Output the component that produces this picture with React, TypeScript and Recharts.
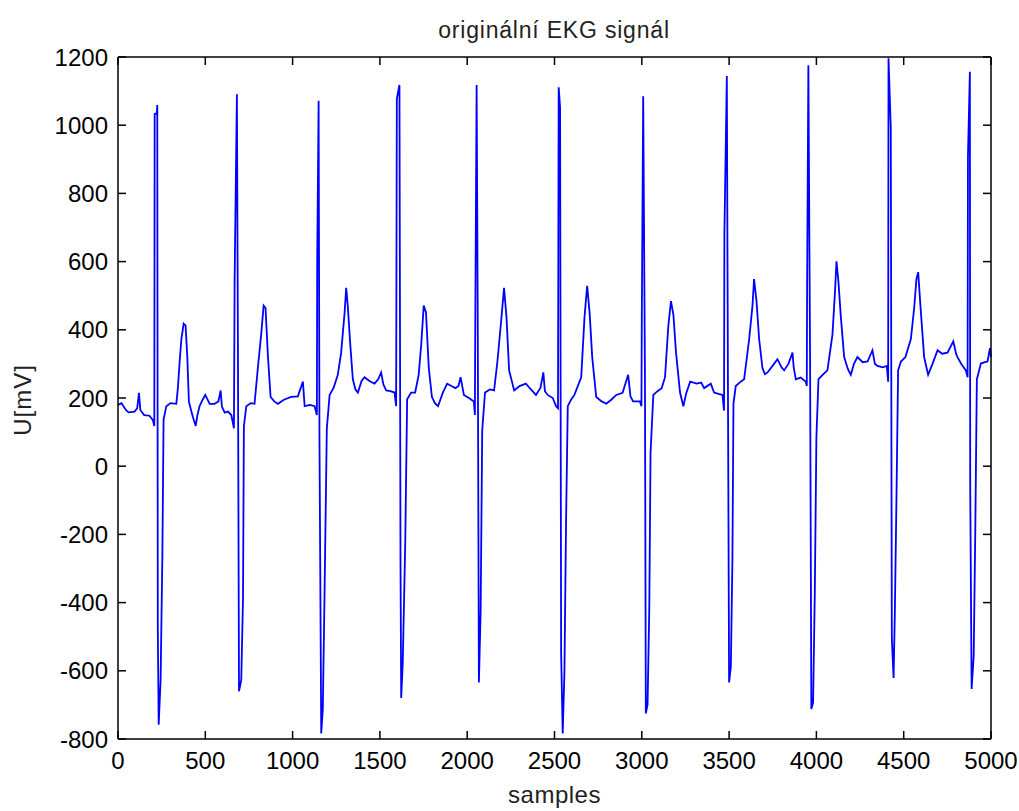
import React from "react";
import { LineChart, Line, XAxis, YAxis } from "recharts";

// hand-read sample positions and voltages from the ECG trace
const samples = [
  0, 20, 45, 60, 95, 110, 120, 128, 150, 180, 200, 208, 210, 222, 225, 228, 233, 244, 254, 261, 277, 300, 334, 343, 353, 363, 376, 387, 397, 406, 418, 429, 445, 455, 467, 485, 500, 525, 553, 575, 588, 595, 611, 630, 649, 664,
  668, 681, 687, 693, 706, 716, 721, 735, 760, 782, 801, 820, 834, 845, 859, 874, 895, 916, 950, 992, 1030, 1059, 1069, 1100, 1126, 1139,
  1141, 1149, 1154, 1164, 1173, 1183, 1196, 1212, 1235, 1259, 1278, 1298, 1307, 1316, 1330, 1345, 1360, 1374, 1395, 1412, 1440, 1469, 1490, 1507, 1520, 1536, 1560, 1584, 1593,
  1597, 1612, 1618, 1622, 1631, 1645, 1656, 1679, 1702, 1722, 1737, 1751, 1764, 1780, 1798, 1815, 1833, 1860, 1885, 1910, 1933, 1950, 1962, 1981, 2010, 2038, 2044,
  2046, 2054, 2060, 2067, 2077, 2086, 2102, 2130, 2154, 2173, 2192, 2211, 2225, 2240, 2269, 2300, 2336, 2365, 2394, 2420, 2436, 2445, 2461, 2490, 2509, 2520,
  2524, 2532, 2538, 2547, 2557, 2566, 2576, 2595, 2614, 2653, 2672, 2687, 2701, 2716, 2739, 2770, 2797, 2825, 2854, 2890, 2922, 2935, 2950, 2989, 2998,
  3000, 3008, 3018, 3023, 3033, 3043, 3050, 3066, 3090, 3114, 3133, 3152, 3167, 3181, 3196, 3219, 3238, 3255, 3277, 3315, 3340, 3357, 3395, 3414, 3440, 3462, 3471,
  3473, 3487, 3494, 3500, 3510, 3519, 3525, 3538, 3560, 3586, 3615, 3634, 3643, 3657, 3672, 3691, 3705, 3720, 3750, 3777, 3800, 3815, 3840, 3863, 3870, 3882, 3910, 3939, 3945,
  3947, 3954, 3964, 3971, 3981, 3991, 4000, 4012, 4040, 4063, 4092, 4107, 4115, 4126, 4140, 4159, 4180, 4197, 4215, 4235, 4265, 4293, 4321, 4335, 4350, 4380, 4403, 4411,
  4413, 4426, 4432, 4442, 4449, 4459, 4468, 4484, 4510, 4541, 4560, 4573, 4583, 4594, 4617, 4640, 4665, 4694, 4720, 4751, 4784, 4800, 4808, 4830, 4856, 4866,
  4868, 4879, 4881, 4889, 4901, 4910, 4919, 4942, 4965, 4980, 4994, 5000,
];

const voltage = [
  180, 185, 165, 158, 160, 170, 215, 165, 150, 148, 135, 118, 1033, 1035, 1059, -477, -758, -627, -268, 137, 176, 185, 183, 229, 307, 373, 418, 412, 320, 190, 165, 144, 118, 150, 176, 195, 209, 183, 183, 190, 222, 175, 157, 160, 150, 111,
  549, 1091, 333, -660, -627, -386, 118, 176, 185, 183, 288, 386, 471, 464, 320, 203, 190, 183, 195, 203, 205, 248, 176, 180, 176, 150,
  608, 1072, 72, -784, -712, -373, 111, 209, 230, 268, 333, 451, 523, 471, 359, 255, 225, 216, 250, 261, 250, 242, 255, 275, 240, 222, 220, 216, 176,
  1078, 1118, -281, -680, -575, -229, 196, 216, 216, 268, 359, 471, 451, 288, 203, 185, 176, 215, 242, 235, 229, 235, 261, 209, 200, 190, 150,
  399, 1118, 484, -634, -425, 105, 216, 225, 222, 307, 412, 523, 438, 281, 222, 235, 242, 225, 209, 230, 275, 220, 209, 200, 176, 170,
  1111, 1052, -549, -784, -601, -170, 176, 195, 209, 261, 438, 529, 451, 320, 203, 190, 183, 195, 209, 215, 268, 205, 190, 190, 176,
  438, 1085, 268, -725, -699, -412, 39, 209, 220, 229, 261, 412, 484, 444, 333, 216, 176, 215, 248, 242, 245, 229, 242, 216, 212, 209, 163,
  680, 1144, 150, -634, -588, -275, 183, 235, 245, 255, 373, 471, 549, 484, 373, 288, 270, 275, 295, 314, 290, 281, 300, 333, 290, 255, 260, 248, 235,
  549, 1176, 288, -712, -693, -366, 85, 255, 270, 281, 386, 516, 601, 542, 438, 320, 285, 268, 300, 320, 305, 307, 340, 300, 294, 290, 294, 248,
  1196, 993, -503, -621, -438, -78, 281, 307, 320, 373, 464, 549, 569, 484, 320, 268, 300, 340, 330, 333, 366, 330, 320, 300, 281, 261,
  908, 1157, -65, -653, -556, -190, 255, 301, 305, 307, 346, 320,
];

const xTicks = [0, 500, 1000, 1500, 2000, 2500, 3000, 3500, 4000, 4500, 5000];
const yTicks = [-800, -600, -400, -200, 0, 200, 400, 600, 800, 1000, 1200];

const data = samples.map((s, i) => ({ x: s, u: voltage[i] }));

const FONT = "'Liberation Sans', Arial, sans-serif";
const tickStyle = { fill: "#000", fontSize: 24, fontFamily: FONT };
const frame = { stroke: "#000", strokeWidth: 1.5 };

// tick marks only, no text
const noText = () => <g />;

const titleLabel = () => (
  <text
    x={554}
    y={38}
    textAnchor="middle"
    fontSize={23}
    fontFamily={FONT}
    letterSpacing={0.8}
    fill="#222"
  >
    originální EKG signál
  </text>
);

const yLabel = () => (
  <text
    x={0}
    y={0}
    transform="translate(31, 400) rotate(-90)"
    textAnchor="middle"
    fontSize={24}
    fontFamily={FONT}
    letterSpacing={1}
    fill="#222"
  >
    U[mV]
  </text>
);

const App = () => {
  return (
    <div style={{ position: "absolute", left: 0, top: 0, background: "#fff" }}>
      <LineChart
        width={1019}
        height={811}
        data={data}
        margin={{ top: 57, right: 28, bottom: 0, left: 0 }}
      >
        {/* labelled axes, ticks pointing inward */}
        <XAxis
          xAxisId="b"
          dataKey="x"
          type="number"
          domain={[0, 5000]}
          ticks={xTicks}
          height={72}
          tickLine={frame}
          tickSize={-8}
          tickMargin={21}
          axisLine={frame}
          tick={tickStyle}
          interval={0}
          label={{ value: "samples", position: "insideBottom", offset: 8, fill: "#222", fontSize: 24, fontFamily: FONT, letterSpacing: 0.5 }}
        />
        <YAxis
          yAxisId="l"
          type="number"
          domain={[-800, 1200]}
          ticks={yTicks}
          width={118}
          tickLine={frame}
          tickSize={-8}
          tickMargin={18}
          axisLine={frame}
          tick={tickStyle}
          interval={0}
          label={yLabel}
        />
        {/* top and right frame with inward ticks */}
        <XAxis
          xAxisId="t"
          orientation="top"
          dataKey="x"
          type="number"
          domain={[0, 5000]}
          ticks={xTicks}
          interval={0}
          mirror
          tick={noText}
          tickSize={8}
          tickLine={frame}
          axisLine={frame}
          label={titleLabel}
        />
        <YAxis
          yAxisId="r"
          orientation="right"
          type="number"
          domain={[-800, 1200]}
          ticks={yTicks}
          interval={0}
          mirror
          tick={noText}
          tickSize={8}
          tickLine={frame}
          axisLine={frame}
        />
        <Line
          xAxisId="t"
          yAxisId="r"
          dataKey="u"
          stroke="none"
          dot={false}
          activeDot={false}
          legendType="none"
          isAnimationActive={false}
        />
        <Line
          xAxisId="b"
          yAxisId="l"
          type="linear"
          dataKey="u"
          stroke="#0000ff"
          strokeWidth={1.8}
          dot={false}
          isAnimationActive={false}
        />
      </LineChart>
    </div>
  );
};

export default App;
